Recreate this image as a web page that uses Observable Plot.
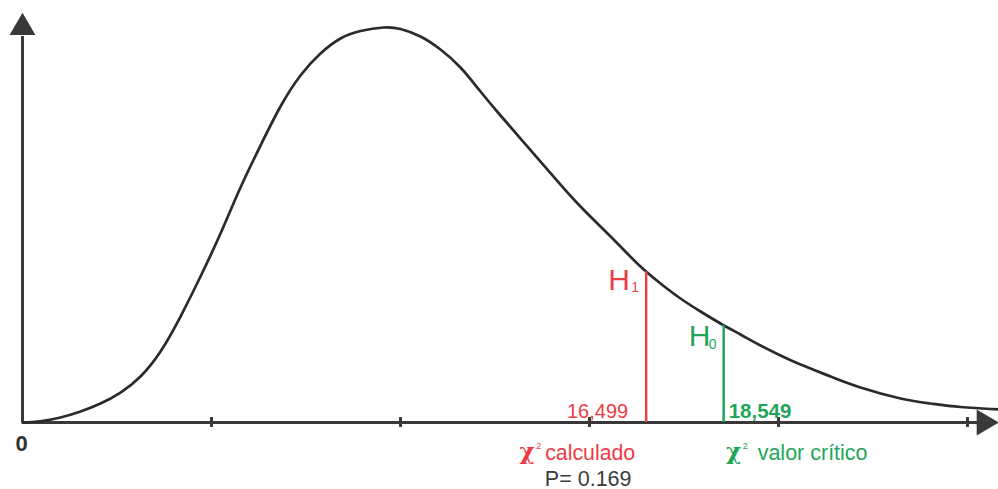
<!DOCTYPE html>
<html>
<head>
<meta charset="utf-8">
<script src="https://cdn.jsdelivr.net/npm/d3@7"></script>
<script src="https://cdn.jsdelivr.net/npm/@observablehq/plot@0.6"></script>
<style>
  html, body { margin: 0; padding: 0; background: #fff; }
  svg { display: block; }
</style>
</head>
<body>
<div id="chart"></div>
<script>
// Chi-square density curve (x in χ² units, y relative height)
const curveX = [0, 0.476, 1.005, 1.534, 2.063, 2.593, 3.122, 3.651, 4.180, 4.709, 5.238, 5.767, 6.296, 6.825, 7.354, 7.884, 8.413, 8.942, 9.550,
                10.0, 10.529, 11.058, 11.587, 12.116, 12.646, 13.175, 13.704, 14.233, 14.762, 15.291, 15.820, 16.349, 16.878, 17.407, 17.937,
                18.466, 18.995, 19.524, 20.053, 20.582, 21.376, 22.169, 23.228, 24.021, 24.815, 25.820];
const curveY = [0, 0.27, 1.11, 2.44, 4.22, 6.66, 10.22, 15.77, 23.54, 32.42, 41.97, 52.19, 61.51, 70.18, 77.06, 81.95, 85.28, 86.94, 87.72,
                87.39, 85.72, 82.83, 78.84, 73.51, 68.18, 63.07, 57.96, 52.85, 47.97, 43.53, 39.08, 34.64, 30.87, 27.54, 24.65,
                21.99, 19.54, 17.10, 14.88, 12.88, 10.22, 7.77, 5.33, 4.22, 3.44, 2.89];

// Axis tick marks (unlabelled) and origin label
const tickValues = [5, 10, 15, 20, 25];
const originLabel = ["0"];

// Test statistic and critical value
const calcValue = 16.499;
const critValue = 18.549;
const calcTop = 33.5;   // curve height at the calculated value
const critTop = 21.6;   // curve height at the critical value
const pValue = 0.169;

const calcLabels = ["H", "1", "χ", "2", "calculado"];
const critLabels = ["H", "0", "χ", "2", "valor crítico"];

const xMax = 25.82, yMax = 91.5;
const xArrow = 25.44, yArrow = 87.7;

const RED = "#ee3b48", GREEN = "#1fa659", AXIS = "#393939", CURVE = "#2b2b2b";
const SANS = "Liberation Sans, Arial, Helvetica, sans-serif";
const SERIF = "DejaVu Serif, Liberation Serif, serif";

const curve = curveX.map((x, i) => ({x, y: curveY[i]}));
const fmt = v => v.toFixed(3).replace(".", ",");

const chart = Plot.plot({
  width: 998,
  height: 489,
  marginLeft: 22,
  marginRight: 0,
  marginTop: 10,
  marginBottom: 67,
  style: {background: "#fff", overflow: "visible"},
  x: {domain: [0, xMax], axis: null},
  y: {domain: [0, yMax], axis: null},
  marks: [
    // axes
    Plot.ruleY([0], {x1: 0, x2: xArrow, stroke: AXIS, strokeWidth: 3}),
    Plot.ruleX([0], {y1: 0, y2: yArrow - 2, stroke: AXIS, strokeWidth: 3}),
    Plot.ruleX(tickValues, {y1: -1.1, y2: 1.1, stroke: AXIS, strokeWidth: 3}),
    Plot.dot([{x: 0, y: yArrow}], {x: "x", y: "y", symbol: "triangle", r: 9.6, fill: AXIS, stroke: null}),
    Plot.dot([{x: xArrow, y: 0}], {x: "x", y: "y", symbol: "triangle", r: 9.6, rotate: 90, fill: AXIS, stroke: null}),
    Plot.text(originLabel, {x: 0, y: 0, text: d => d, dy: 28, dx: -1, lineAnchor: "bottom", textAnchor: "middle", fontSize: 22, fontWeight: "bold", fill: "#333", fontFamily: SANS}),

    // density curve
    Plot.line(curve, {x: "x", y: "y", curve: "natural", stroke: CURVE, strokeWidth: 2.7}),

    // calculated value
    Plot.ruleX([calcValue], {y1: 0, y2: calcTop, stroke: RED, strokeWidth: 2.5}),
    Plot.text([calcValue], {x: d => d, y: 0, text: d => fmt(d), dx: -18, dy: -5, lineAnchor: "bottom", textAnchor: "end", fontSize: 20, fill: RED, fontFamily: SANS}),
    Plot.text([calcValue], {x: d => d, y: 0, text: () => calcLabels[0], dx: -38, dy: -133, lineAnchor: "bottom", textAnchor: "start", fontSize: 30, fill: RED, fontFamily: SANS}),
    Plot.text([calcValue], {x: d => d, y: 0, text: () => calcLabels[1], dx: -15, dy: -131, lineAnchor: "bottom", textAnchor: "start", fontSize: 14, fill: RED, fontFamily: SANS}),
    Plot.text([calcValue], {x: d => d, y: 0, text: () => calcLabels[2], dx: -119, dy: 36, lineAnchor: "bottom", textAnchor: "middle", fontSize: 23, fontWeight: "bold", fill: RED, fontFamily: SERIF}),
    Plot.text([calcValue], {x: d => d, y: 0, text: () => calcLabels[3], dx: -110, dy: 26, lineAnchor: "bottom", textAnchor: "start", fontSize: 9, fill: RED, fontFamily: SANS}),
    Plot.text([calcValue], {x: d => d, y: 0, text: () => calcLabels[4], dx: -11, dy: 37, lineAnchor: "bottom", textAnchor: "end", fontSize: 21.3, fill: RED, fontFamily: SANS}),
    Plot.text([calcValue], {x: d => d, y: 0, text: () => "P= " + pValue.toFixed(3), dx: -58, dy: 63, lineAnchor: "bottom", textAnchor: "middle", fontSize: 21.5, fill: "#3d3d3d", fontFamily: SANS}),

    // critical value
    Plot.ruleX([critValue], {y1: 0, y2: critTop, stroke: GREEN, strokeWidth: 2.5}),
    Plot.text([critValue], {x: d => d, y: 0, text: d => fmt(d), dx: 5, dy: -5, lineAnchor: "bottom", textAnchor: "start", fontSize: 20.5, fontWeight: "bold", fill: GREEN, fontFamily: SANS}),
    Plot.text([critValue], {x: d => d, y: 0, text: () => critLabels[0], dx: -35, dy: -77, lineAnchor: "bottom", textAnchor: "start", fontSize: 30, fill: GREEN, fontFamily: SANS}),
    Plot.text([critValue], {x: d => d, y: 0, text: () => critLabels[1], dx: -15, dy: -74, lineAnchor: "bottom", textAnchor: "start", fontSize: 14, fill: GREEN, fontFamily: SANS}),
    Plot.text([critValue], {x: d => d, y: 0, text: () => critLabels[2], dx: 10, dy: 36, lineAnchor: "bottom", textAnchor: "middle", fontSize: 23, fontWeight: "bold", fill: GREEN, fontFamily: SERIF}),
    Plot.text([critValue], {x: d => d, y: 0, text: () => critLabels[3], dx: 19, dy: 26, lineAnchor: "bottom", textAnchor: "start", fontSize: 9, fill: GREEN, fontFamily: SANS}),
    Plot.text([critValue], {x: d => d, y: 0, text: () => critLabels[4], dx: 34, dy: 37, lineAnchor: "bottom", textAnchor: "start", fontSize: 21.5, fill: GREEN, fontFamily: SANS})
  ]
});
document.getElementById("chart").appendChild(chart);
</script>
</body>
</html>
